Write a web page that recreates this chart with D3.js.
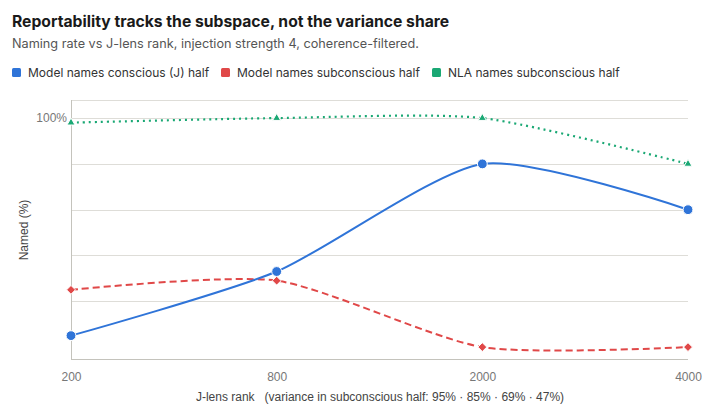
<!DOCTYPE html>
<html>
<head>
<meta charset="utf-8">
<script src="https://cdn.jsdelivr.net/npm/d3@7"></script>
<style>
    body { margin: 0; background: #fff; }
    svg { display: block; }
</style>
</head>
<body>
<div class="chart_container"></div>
<script>
//^ DATA //
const ranks = ["200", "800", "2000", "4000"];
const consciousJ = [5, 33, 80, 60];
const modelSub = [25, 29, 0, 0];
const nlaSub = [98, 100, 100, 80];
const yGridTicks = [20, 40, 60, 80, 100];
const yLabelTicks = [100];
const seriesNames = ["Model names conscious (J) half", "Model names subconscious half", "NLA names subconscious half"];
const seriesColors = ["#2f74d8", "#e04848", "#1aa874"];

//^ DIMENSIONS //
const width = 702;
const height = 412;
const plot = { left: 71, right: 688, top: 100, bottom: 359 };

const svg = d3.select(".chart_container").append("svg").attr("width", width).attr("height", height);

//^ TITLES //
svg.append("text").attr("x", 12).attr("y", 27)
    .attr("font-family", "Inter, 'Noto Sans', sans-serif").attr("font-weight", 650).attr("font-size", 15.7)
    .attr("fill", "#1a1a1a").text("Reportability tracks the subspace, not the variance share");
svg.append("text").attr("x", 12).attr("y", 47.5)
    .attr("font-family", "Inter, 'Noto Sans', sans-serif").attr("font-size", 12.7)
    .attr("fill", "#555").text("Naming rate vs J-lens rank, injection strength 4, coherence-filtered.");

//^ LEGEND //
const legendX = [12, 221, 432];
const legend = svg.append("g").selectAll("g").data(seriesNames).enter().append("g")
    .attr("transform", (d, i) => `translate(${legendX[i]},68)`);
legend.append("rect").attr("width", 9).attr("height", 9).attr("rx", 1.5).attr("fill", (d, i) => seriesColors[i]);
legend.append("text").attr("x", 16).attr("y", 9)
    .attr("font-family", "Inter, 'Noto Sans', sans-serif").attr("font-size", 12)
    .attr("fill", "#333").text((d) => d);

//^ SCALES //
const xScale = d3.scalePoint().domain(ranks).range([plot.left, plot.right]);
const yScale = d3.scaleLinear().domain([-5.2, 107.9]).range([plot.bottom, plot.top]);

//^ GRID //
svg.append("g").selectAll("line").data(yGridTicks.concat([107.9])).enter().append("line")
    .attr("x1", plot.left).attr("x2", plot.right)
    .attr("y1", (d) => Math.round(yScale(d)) + 0.5).attr("y2", (d) => Math.round(yScale(d)) + 0.5)
    .attr("stroke", "#deddd8").attr("stroke-width", 1);

//^ Y AXIS //
const yAxis = d3.axisLeft(yScale).tickValues(yLabelTicks).tickSize(0).tickPadding(4).tickFormat((d) => d + "%");
const yG = svg.append("g").attr("transform", `translate(${plot.left},0)`).call(yAxis);
yG.select(".domain").remove();
yG.selectAll("text").attr("font-family", "Arial, 'Liberation Sans', sans-serif").attr("font-size", 12).attr("fill", "#777");
svg.append("line").attr("x1", plot.left + 0.5).attr("x2", plot.left + 0.5).attr("y1", plot.top).attr("y2", plot.bottom)
    .attr("stroke", "#c4c3bc");

//^ X AXIS //
const xAxis = d3.axisBottom(xScale).tickSize(0).tickPadding(13);
const xG = svg.append("g").attr("transform", `translate(0,${plot.bottom})`).call(xAxis);
xG.select(".domain").remove();
xG.selectAll("text").attr("font-family", "Arial, 'Liberation Sans', sans-serif").attr("font-size", 12).attr("fill", "#777");
svg.append("line").attr("x1", plot.left).attr("x2", plot.right).attr("y1", plot.bottom + 0.5).attr("y2", plot.bottom + 0.5)
    .attr("stroke", "#c4c3bc");

//^ AXIS TITLES //
svg.append("text").attr("x", 380).attr("y", 401).attr("text-anchor", "middle")
    .attr("font-family", "Arial, 'Liberation Sans', sans-serif").attr("font-size", 12).attr("fill", "#444")
    .attr("xml:space", "preserve")
    .text("J-lens rank   (variance in subconscious half: 95% · 85% · 69% · 47%)");
svg.append("text").attr("transform", "rotate(-90)").attr("x", -230).attr("y", 28).attr("text-anchor", "middle")
    .attr("font-family", "Arial, 'Liberation Sans', sans-serif").attr("font-size", 12).attr("fill", "#444")
    .text("Named (%)");

//^ LINES //
const line = d3.line().x((d, i) => xScale(ranks[i])).y((d) => yScale(d)).curve(d3.curveCardinal.tension(0.3));
const series = [
    { values: consciousJ, color: seriesColors[0], dash: null, width: 2, marker: d3.symbolCircle, size: 76 },
    { values: modelSub, color: seriesColors[1], dash: "7,4", width: 2, marker: d3.symbolDiamond2, size: 50 },
    { values: nlaSub, color: seriesColors[2], dash: "2,4", width: 2.2, marker: d3.symbolTriangle, size: 28 }
];

// draw lines back to front like the reference: green, red, blue
[2, 1, 0].forEach((k) => {
    const s = series[k];
    svg.append("path").datum(s.values).attr("d", line).attr("fill", "none")
        .attr("stroke", s.color).attr("stroke-width", s.width)
        .attr("stroke-dasharray", s.dash);
});
[2, 1, 0].forEach((k) => {
    const s = series[k];
    svg.append("g").selectAll("path").data(s.values).enter().append("path")
        .attr("d", d3.symbol().type(s.marker).size(s.size))
        .attr("transform", (d, i) => `translate(${xScale(ranks[i])},${yScale(d)})`)
        .attr("fill", s.color).attr("stroke", "#fff").attr("stroke-width", 1);
});
</script>
</body>
</html>
